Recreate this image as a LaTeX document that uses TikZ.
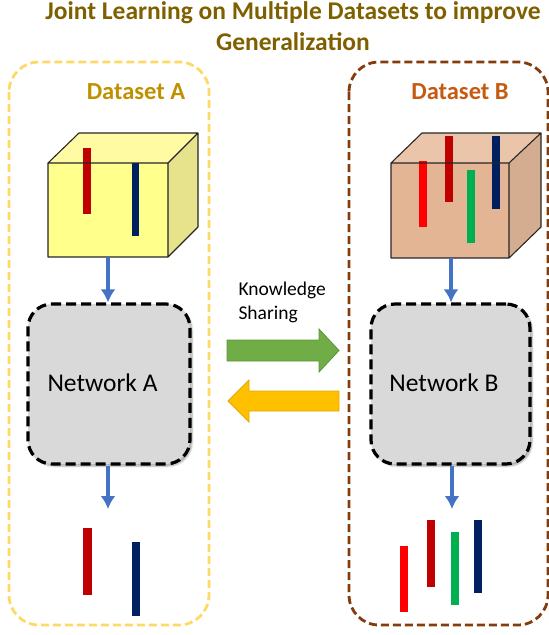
\documentclass[tikz,border=0pt]{standalone}
\usepackage{fontspec}
\setmainfont{Carlito}
\usetikzlibrary{shadows.blur,arrows.meta}
\definecolor{titlecol}{HTML}{7F6000}
\definecolor{dsA}{HTML}{BF9000}
\definecolor{dsB}{HTML}{C55A11}
\definecolor{boxA}{HTML}{FFD966}
\definecolor{boxB}{HTML}{843C0C}
\definecolor{netfill}{HTML}{D9D9D9}
\definecolor{flowblue}{HTML}{4472C4}
\definecolor{barred}{HTML}{C00000}
\definecolor{barbright}{HTML}{FF0000}
\definecolor{barnavy}{HTML}{002060}
\definecolor{bargreen}{HTML}{00B050}
\definecolor{arrgreen}{HTML}{70AD47}
\definecolor{arrgreenb}{HTML}{5E9438}
\definecolor{arrorange}{HTML}{FFC000}
\definecolor{arrorangeb}{HTML}{E0A800}
\definecolor{cubeAfront}{HTML}{FFFF8C}
\definecolor{cubeAtop}{HTML}{FFFBA3}
\definecolor{cubeAside}{HTML}{E7E38C}
\definecolor{cubeBfront}{HTML}{E4B595}
\definecolor{cubeBtop}{HTML}{EAC5A9}
\definecolor{cubeBside}{HTML}{D4AD91}
\begin{document}
\begin{tikzpicture}[x=1pt,y=-1pt,
  datasetbox/.style={line width=2.8pt, dash pattern=on 8pt off 4pt, rounded corners=30pt},
  netbox/.style={draw=black, fill=netfill, line width=3.2pt, dash pattern=on 10pt off 5pt,
    rounded corners=24pt, minimum height=160pt, inner sep=0pt,
    blur shadow={shadow xshift=2pt, shadow yshift=-2pt, shadow blur steps=6, shadow opacity=35}},
  flow/.style={draw=flowblue, line width=3.6pt, -{Latex[length=13pt,width=15pt]}},
  cubeedge/.style={draw=black!85, line width=1.1pt, line join=round},
  bigbold/.style={font=\fontsize{25.5}{30}\selectfont\bfseries},
  dslabel/.style={font=\fontsize{24.5}{28}\selectfont\bfseries, anchor=base},
  netlabel/.style={font=\fontsize{25.5}{30}\selectfont, anchor=base},
  kslabel/.style={font=\fontsize{19.5}{23}\selectfont, anchor=base west},
]
\useasboundingbox (0,0) rectangle (549,635);

% title
\node[bigbold, text=titlecol, anchor=base] (title1) at (293,19.5) {Joint Learning on Multiple Datasets to improve};
\node[bigbold, text=titlecol, anchor=base] (title2) at (293,50) {Generalization};

% dataset boxes
\draw[datasetbox, draw=boxA] (9,62) rectangle (209,625);
\draw[datasetbox, draw=boxB] (349,62) rectangle (548,625);
\node[dslabel, text=dsA] (dsa) at (136,99.5) {Dataset A};
\node[dslabel, text=dsB] (dsb) at (460,99.5) {Dataset B};

% cube A
\fill[cubeAtop] (48,163) -- (79,133) -- (198,133) -- (168,163) -- cycle;
\fill[cubeAside] (168,163) -- (198,133) -- (198,227) -- (168,257) -- cycle;
\fill[cubeAfront] (48,163) rectangle (168,257);
\fill[barred] (83,148) rectangle (91,214);
\fill[barnavy] (132,163) rectangle (139,236);
\draw[cubeedge] (48,163) -- (79,133) -- (198,133) -- (168,163)
  (198,133) -- (198,227) -- (168,257)
  (48,163) rectangle (168,257);

% cube B
\fill[cubeBtop] (391,163) -- (422,133) -- (541,133) -- (509,163) -- cycle;
\fill[cubeBside] (509,163) -- (541,133) -- (541,227) -- (509,258) -- cycle;
\fill[cubeBfront] (391,163) rectangle (509,258);
\fill[barbright] (419,161) rectangle (427,227);
\fill[barred] (445,136) rectangle (453,202);
\fill[bargreen] (467,170) rectangle (475,243);
\fill[barnavy] (492,136) rectangle (500,209);
\draw[cubeedge] (391,163) -- (422,133) -- (541,133) -- (509,163)
  (541,133) -- (541,227) -- (509,258)
  (391,163) rectangle (509,258);

\coordinate (cubeA) at (108,257);
\coordinate (cubeB) at (451,258);

% networks
\node[netbox, minimum width=162pt] (netA) at (109,384) {};
\node[netbox, minimum width=159pt] (netB) at (450.5,384) {};
\node[netlabel] (netAl) at (102.5,391.5) {Network A};
\node[netlabel] (netBl) at (444,391.5) {Network B};

\draw[flow] (cubeA) -- (netA.north -| cubeA);
\draw[flow] (cubeB) -- (netB.north -| cubeB);

\coordinate (outA) at (108,509);
\coordinate (outB) at (452,509);
\draw[flow] (netA.south -| outA) -- (outA);
\draw[flow] (netB.south -| outB) -- (outB);

% outputs A
\fill[barred] (83,528) rectangle (92,595);
\fill[barnavy] (132,542) rectangle (140,616);
% outputs B
\fill[barbright] (400,546) rectangle (408,612);
\fill[barred] (427,520) rectangle (435,587);
\fill[bargreen] (451,532) rectangle (459,605);
\fill[barnavy] (474,520) rectangle (482,593);

% knowledge sharing
\node[kslabel] (ks1) at (235,295) {Knowledge};
\node[kslabel] (ks2) at (235,319) {Sharing};
\draw[fill=arrgreen, draw=arrgreenb, line width=0.8pt, line join=miter]
  (227,340) -- (319,340) -- (319,329) -- (339,350.5) -- (319,372) -- (319,361) -- (227,361) -- cycle;
\draw[fill=arrorange, draw=arrorangeb, line width=0.8pt, line join=miter]
  (339,391) -- (249,391) -- (249,380) -- (228,401) -- (249,422) -- (249,411) -- (339,411) -- cycle;
\end{tikzpicture}
\end{document}
